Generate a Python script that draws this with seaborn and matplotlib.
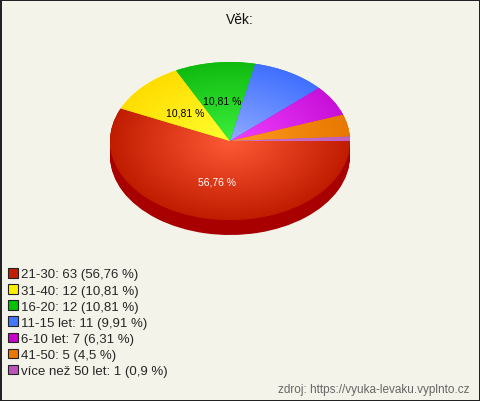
import numpy as np
import matplotlib
matplotlib.use("Agg")
import matplotlib.pyplot as plt
import matplotlib.colors as mcolors
from matplotlib.patches import Patch
import seaborn as sns

# ---- data ----
categories = ["21-30", "31-40", "16-20", "11-15 let", "6-10 let", "41-50", "více než 50 let"]
counts = [63, 12, 12, 11, 7, 5, 1]
legend_colors = ["#c41e00", "#ffee00", "#00c400", "#4477ff", "#cc00cc", "#ee7700", "#bb55bb"]
light_colors = ["#ff5a36", "#ffff30", "#3cf03c", "#90aaff", "#f040ff", "#ff9a20", "#cc77cc"]
dark_colors = ["#c01c00", "#ffdd00", "#10bb10", "#4070ff", "#c810d8", "#e87800", "#c060c0"]
side_colors = ["#a80000", "#b0a000", "#008800", "#2040b0", "#880088", "#a05000", "#804080"]
title = "Věk:"
source = "zdroj: https://vyuka-levaku.vyplnto.cz"

sns.set_theme(style="white")
plt.rcParams["font.family"] = ["Liberation Sans", "DejaVu Sans"]

W, H = 480, 402
bg = "#f4f3ea"
fig = plt.figure(figsize=(W / 100, H / 100), dpi=100, facecolor=bg, edgecolor="#222222")
fig.patch.set_linewidth(2)

# pie geometry in pixels
cx, cy, rx, ry, depth = 230, 142, 120, 79, 15
d = depth / ry
ax_h = ry * (2 + d)
ax = fig.add_axes([(cx - rx) / W, 1 - (cy - ry + ax_h) / H, 2 * rx / W, ax_h / H])
ax.set_facecolor("none")
ax.axis("off")

total = sum(counts)

# side of the 3D pie
n = 16
for k in range(n, 0, -1):
    ax.pie(counts, colors=side_colors, startangle=0, counterclock=False,
           center=(0, -d * k / n), radius=1, wedgeprops=dict(linewidth=0))


def fmt(p):
    return (f"{p:.2f}".replace(".", ",") + " %") if p >= 10 else ""


wedges, texts, autotexts = ax.pie(
    counts, colors=legend_colors, startangle=0, counterclock=False,
    center=(0, 0), radius=1, autopct=fmt, pctdistance=0.52,
    wedgeprops=dict(linewidth=0),
    textprops=dict(fontsize=7.5, color="black"))

# radial gradients on the top face
yy, xx = np.mgrid[-1:1:300j, -1:1:300j]
rr = np.clip(np.sqrt(xx ** 2 + yy ** 2), 0, 1)[..., None]
for w, lc, dc in zip(wedges, light_colors, dark_colors):
    a = np.array(mcolors.to_rgb(lc))
    b = np.array(mcolors.to_rgb(dc))
    img = a * (1 - rr) + b * rr
    im = ax.imshow(img, extent=(-1, 1, -1, 1), origin="lower", aspect="auto",
                   zorder=w.get_zorder() + 0.1, interpolation="bilinear")
    im.set_clip_path(w)

for t in autotexts:
    t.set_zorder(10)
autotexts[0].set_color("white")

ax.set_aspect("auto")
ax.set_xlim(-1, 1)
ax.set_ylim(-1 - d, 1)

fig.text(240 / W, 1 - 20 / H, title, ha="center", va="center", fontsize=10, color="#111111")


def pct_label(v):
    p = round(v / total * 100, 2)
    return f"{p:g}".replace(".", ",") + " %"


labels = [f"{c}: {v} ({pct_label(v)})" for c, v in zip(categories, counts)]
handles = [Patch(facecolor=c, edgecolor="#222222", linewidth=0.8) for c in legend_colors]
fig.legend(handles, labels, loc="upper left", bbox_to_anchor=(8 / W, 1 - 269 / H),
           frameon=False, fontsize=9.5, handlelength=0.75, handleheight=0.75,
           handletextpad=0.25, labelspacing=0.28, borderpad=0, borderaxespad=0)

fig.text(470 / W, 1 - 390 / H, source, ha="right", va="center", fontsize=8.5, color="#666666")

fig.savefig("out.png", dpi=100, facecolor=bg)
